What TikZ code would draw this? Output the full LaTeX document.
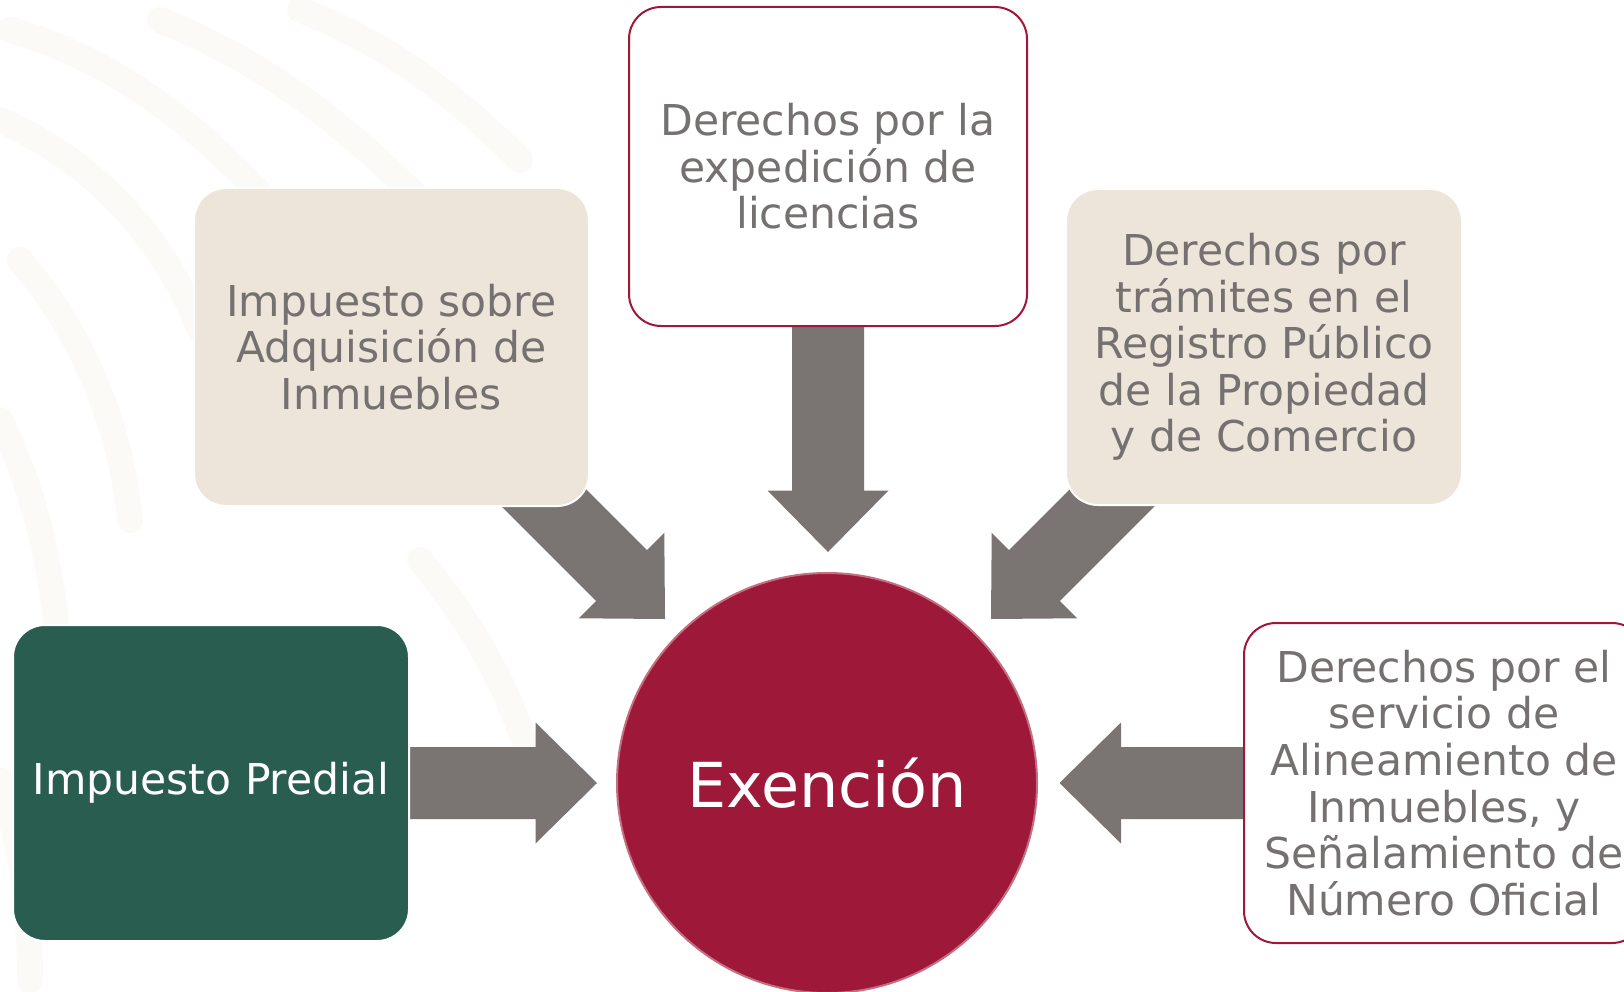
\documentclass[tikz,border=0pt]{standalone}
\usepackage{fontspec}
\setmainfont{DejaVu Sans}
\usetikzlibrary{calc}
\definecolor{txtgray}{RGB}{118,113,113}
\definecolor{arrgray}{RGB}{122,117,114}
\definecolor{hubred}{RGB}{158,24,57}
\definecolor{ringpink}{RGB}{196,110,128}
\definecolor{tanfill}{RGB}{237,229,217}
\definecolor{dgreen}{RGB}{40,93,80}
\definecolor{wmark}{RGB}{252,250,246}
\pgfdeclarelayer{bg}
\pgfsetlayers{bg,main}
\newcommand{\fatarrow}[2]{%
  \path ($(#2)!61.5pt!(#1)$) coordinate (fatH);
  \fill[arrgray] ($(#1)!36pt!90:(#2)$) -- ($(fatH)!36pt!90:(#2)$) -- ($(fatH)!60.5pt!90:(#2)$) -- (#2)
    -- ($(fatH)!60.5pt!-90:(#2)$) -- ($(fatH)!36pt!-90:(#2)$) -- ($(#1)!36pt!-90:(#2)$) -- cycle;}
\tikzset{
  basebox/.style={rounded corners=32pt, minimum width=396pt, minimum height=318pt, inner sep=0pt,
    align=center, font=\fontsize{42.5}{46.6}\selectfont},
  tanbox/.style={basebox, fill=tanfill, draw=white, line width=2pt, text=txtgray},
  whitebox/.style={basebox, fill=white, draw=hubred, line width=2pt, text=txtgray},
  greenbox/.style={basebox, fill=dgreen, draw=white, line width=2pt, text=white},
  hub/.style={circle, fill=hubred, draw=ringpink, line width=2pt, minimum size=420pt, inner sep=0pt,
    text=white, font=\fontsize{62}{70}\selectfont},
  wm/.style={draw=wmark, line width=26pt, line cap=round}
}
\begin{document}
\begin{tikzpicture}[x=1pt,y=-1pt]
\useasboundingbox (0,0) rectangle (1624,992);
\clip (0,0) rectangle (1624,992);
\begin{pgfonlayer}{bg}
  \fill[white] (0,0) rectangle (1624,992);
  % faint watermark bands
  \draw[wm] (10,30) .. controls (120,60) and (220,140) .. (300,240);
  \draw[wm] (0,120) .. controls (90,160) and (160,230) .. (200,330);
  \draw[wm] (20,260) .. controls (80,330) and (120,420) .. (130,520);
  \draw[wm] (0,420) .. controls (40,500) and (60,600) .. (60,700);
  \draw[wm] (160,20) .. controls (260,60) and (340,120) .. (420,200);
  \draw[wm] (300,10) .. controls (380,40) and (450,90) .. (520,160);
  \draw[wm] (0,780) .. controls (20,840) and (30,900) .. (30,980);
  \draw[wm] (420,560) .. controls (470,620) and (520,700) .. (540,800);
\end{pgfonlayer}

\node[whitebox, minimum width=398pt, minimum height=319pt] (lic) at (828,166.5)
  {Derechos por la\\expedición de\\licencias};
\node[tanbox, minimum width=395pt] (isai) at (391.5,347)
  {Impuesto sobre\\Adquisición de\\Inmuebles};
\node[tanbox, minimum height=316pt] (rpp) at (1264,347)
  {Derechos por\\trámites en el\\Registro Público\\de la Propiedad\\y de Comercio};
\node[greenbox, minimum height=316pt] (pred) at (211,783) {Impuesto Predial};
\node[whitebox, minimum width=400pt, minimum height=320pt] (alin) at (1444,783)
  {Derechos por el\\servicio de\\Alineamiento de\\Inmuebles, y\\Señalamiento de\\Número Oficial};
\node[hub] (ex) at (827,783) {Exención};

\coordinate (tipL) at (597,783);
\coordinate (tipR) at (1059.5,783);
\coordinate (tipT) at (828,552);
\coordinate (tailUL) at (505,459);
\coordinate (tipUL) at (665,619);
\coordinate (tailUR) at (1151,459);
\coordinate (tipUR) at (991,619);

\begin{pgfonlayer}{bg}
  \fatarrow{pred.east}{tipL}
  \fatarrow{alin.west}{tipR}
  \fatarrow{lic.south}{tipT}
  \fatarrow{tailUL}{tipUL}
  \fatarrow{tailUR}{tipUR}
\end{pgfonlayer}
\end{tikzpicture}
\end{document}
